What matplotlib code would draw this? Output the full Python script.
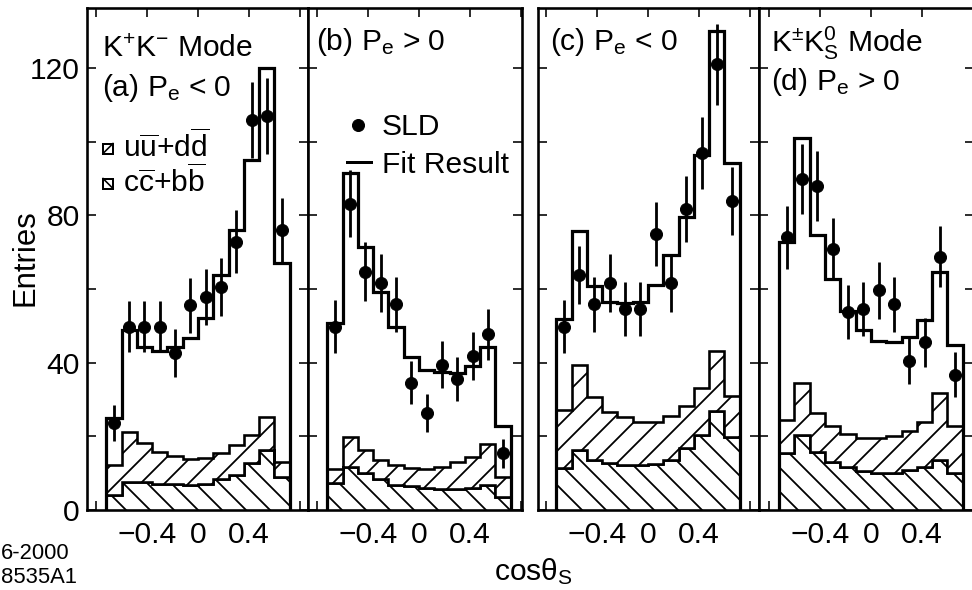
import numpy as np
import matplotlib
matplotlib.use("Agg")
import matplotlib.pyplot as plt
from matplotlib.lines import Line2D
from matplotlib.patches import Rectangle

plt.rcParams['font.family'] = ['Liberation Sans', 'DejaVu Sans']
plt.rcParams['mathtext.fontset'] = 'custom'
plt.rcParams['mathtext.rm'] = 'Liberation Sans'
plt.rcParams['mathtext.it'] = 'Liberation Sans:italic'
plt.rcParams['mathtext.bf'] = 'Liberation Sans:bold'
plt.rcParams['mathtext.sf'] = 'Liberation Sans'
plt.rcParams['hatch.linewidth'] = 1.8

# ---------------- data ----------------
bin_edges = [-0.72, -0.60, -0.48, -0.36, -0.24, -0.12, 0.0, 0.12, 0.24, 0.36, 0.48, 0.60, 0.72]

# (a) K+K- mode, Pe < 0
a_data = [23.6, 49.8, 49.8, 49.8, 42.6, 55.6, 57.8, 60.6, 72.9, 106.0, 107.0, 76.0]
a_err = [5.0, 7.0, 7.0, 7.0, 6.5, 7.5, 7.6, 7.8, 8.5, 10.3, 10.3, 8.7]
a_fit = [25.0, 49.0, 44.3, 43.3, 44.3, 46.6, 52.0, 63.8, 76.0, 95.0, 120.0, 67.0]
a_ccbb = [4.1, 7.7, 7.7, 7.1, 7.1, 6.8, 7.1, 8.3, 9.5, 12.8, 16.3, 9.0]
a_uudd = [8.1, 13.6, 10.4, 8.7, 7.6, 7.0, 6.9, 7.1, 8.1, 7.6, 8.9, 4.1]

# (b) K+K- mode, Pe > 0
b_data = [49.8, 83.1, 64.7, 61.7, 55.8, 34.6, 26.4, 39.5, 35.6, 41.8, 47.7, 15.4]
b_err = [7.1, 9.1, 8.0, 7.9, 7.5, 5.9, 5.1, 6.3, 6.0, 6.5, 6.9, 4.0]
b_fit = [50.9, 91.4, 71.5, 59.3, 49.8, 41.6, 38.0, 37.6, 37.1, 39.1, 44.3, 22.9]
b_ccbb = [7.2, 11.8, 10.0, 8.3, 6.8, 6.4, 5.9, 5.6, 5.6, 5.9, 6.8, 3.6]
b_uudd = [3.9, 8.1, 6.3, 5.3, 5.4, 4.9, 5.1, 6.0, 7.5, 8.6, 11.1, 5.4]

# (c) K+-K0s mode, Pe < 0
c_data = [49.8, 63.8, 55.8, 61.7, 54.6, 54.6, 74.9, 61.6, 81.7, 97.0, 121.0, 83.9]
c_err = [7.1, 8.0, 7.5, 7.9, 7.4, 7.4, 8.7, 7.8, 9.0, 9.8, 11.0, 9.2]
c_fit = [51.8, 75.8, 60.8, 56.6, 56.1, 56.6, 61.2, 69.2, 79.6, 96.4, 130.1, 94.1]
c_ccbb = [11.3, 16.3, 13.6, 12.7, 12.2, 12.2, 12.5, 13.6, 16.7, 20.4, 27.0, 19.9]
c_uudd = [15.9, 23.1, 17.0, 14.0, 13.0, 11.8, 11.5, 11.9, 11.5, 12.6, 16.3, 11.1]

# (d) K+-K0s mode, Pe > 0
d_data = [74.0, 89.9, 88.0, 70.8, 53.7, 54.6, 59.6, 55.8, 40.5, 45.5, 68.8, 36.7]
d_err = [8.6, 9.5, 9.4, 8.4, 7.3, 7.4, 7.7, 7.5, 6.4, 6.7, 8.3, 6.1]
d_fit = [72.9, 100.9, 74.7, 62.6, 54.0, 48.9, 46.0, 45.7, 47.0, 51.6, 64.7, 44.8]
d_ccbb = [15.6, 20.4, 15.8, 13.1, 11.8, 10.7, 10.1, 10.1, 10.9, 11.6, 13.6, 10.0]
d_uudd = [8.8, 14.2, 10.6, 9.8, 8.8, 8.8, 9.4, 10.0, 10.6, 12.4, 18.3, 12.8]

x_ticks = [-0.8, -0.4, 0.0, 0.4, 0.8]
x_ticklabels = ['', '\u22120.4', '0', '0.4', '']
y_ticks = [0, 20, 40, 60, 80, 100, 120]
y_ticklabels = ['0', '', '40', '', '80', '', '120']

# ---------------- layout ----------------
DPI = 72
W, H = 972, 590
fig = plt.figure(figsize=(W / DPI, H / DPI), dpi=DPI)
fig.patch.set_facecolor('white')

def fx(x):
    return x / W

def fy(y):
    return 1 - y / H

AX_TOP, AX_BOT = 8, 510
panels = [
    dict(l=87, r=308, xlim=(-0.871, 0.863), data=a_data, err=a_err, fit=a_fit, ccbb=a_ccbb, uudd=a_uudd),
    dict(l=308, r=522, xlim=(-0.871, 0.808), data=b_data, err=b_err, fit=b_fit, ccbb=b_ccbb, uudd=b_uudd),
    dict(l=538, r=759, xlim=(-0.863, 0.871), data=c_data, err=c_err, fit=c_fit, ccbb=c_ccbb, uudd=c_uudd),
    dict(l=759, r=974, xlim=(-0.878, 0.808), data=d_data, err=d_err, fit=d_fit, ccbb=d_ccbb, uudd=d_uudd),
]

edges = np.array(bin_edges)
centers = 0.5 * (edges[:-1] + edges[1:])

for i, p in enumerate(panels):
    ax = fig.add_axes([fx(p['l']), fy(AX_BOT), (p['r'] - p['l']) / W, (AX_BOT - AX_TOP) / H])
    ccbb = np.array(p['ccbb'])
    total = ccbb + np.array(p['uudd'])
    ax.stairs(ccbb, edges, baseline=0, fill=True, hatch='\\', facecolor='white',
              edgecolor='black', linewidth=2.6, zorder=2)
    ax.stairs(total, edges, baseline=ccbb, fill=True, hatch='/', facecolor='white',
              edgecolor='black', linewidth=2.6, zorder=2)
    ax.stairs(p['fit'], edges, baseline=0, fill=False, color='black', linewidth=3.2, zorder=3)
    ax.errorbar(centers, p['data'], yerr=p['err'], fmt='o', color='black', ms=12,
                elinewidth=2.8, capsize=0, zorder=4)
    ax.set_xlim(*p['xlim'])
    ax.set_ylim(0, 136.3)
    ax.set_xticks(x_ticks)
    ax.set_xticklabels(x_ticklabels)
    ax.set_yticks(y_ticks)
    if i == 0:
        ax.set_yticklabels(y_ticklabels)
    else:
        ax.set_yticklabels([])
    ax.tick_params(direction='in', top=True, right=True, length=9, width=1.6,
                   labelsize=30, colors='black')
    ax.tick_params(axis='x', pad=11)
    ax.tick_params(axis='y', pad=7)
    for s in ax.spines.values():
        s.set_linewidth(2.6)

# ---------------- texts ----------------
FS = 30
fig.text(fx(102), fy(57), r'$\mathrm{K^{+}K^{-}}$ Mode', fontsize=FS, va='baseline')
fig.text(fx(102), fy(96), r'(a) $\mathrm{P_e}$ < 0', fontsize=FS, va='baseline')
fig.text(fx(316), fy(50), r'(b) $\mathrm{P_e}$ > 0', fontsize=FS, va='baseline')
fig.text(fx(550), fy(50), r'(c) $\mathrm{P_e}$ < 0', fontsize=FS, va='baseline')
fig.text(fx(771), fy(52), r'$\mathrm{K^{\pm}K^{0}_{S}}$ Mode', fontsize=FS, va='baseline')
fig.text(fx(771), fy(90), r'(d) $\mathrm{P_e}$ > 0', fontsize=FS, va='baseline')

# legend in (a)
for (yb, diag, lab) in [(148.5, '/', r'$\mathrm{u\overline{u}{+}d\overline{d}}$'),
                        (183.5, '\\', r'$\mathrm{c\overline{c}{+}b\overline{b}}$')]:
    s = 10
    x0, y0 = 103, yb - s / 2
    fig.add_artist(Rectangle((fx(x0), fy(y0 + s)), s / W, s / H, transform=fig.transFigure,
                             facecolor='white', edgecolor='black', linewidth=2.0))
    if diag == '/':
        xs, ys = [x0, x0 + s], [y0 + s, y0]
    else:
        xs, ys = [x0, x0 + s], [y0, y0 + s]
    fig.add_artist(Line2D([fx(v) for v in xs], [fy(v) for v in ys], transform=fig.transFigure,
                          color='black', linewidth=1.6))
    fig.text(fx(123), fy(yb + 9), lab, fontsize=FS, va='baseline')

# legend in (b)
fig.add_artist(Line2D([fx(358)], [fy(125)], transform=fig.transFigure, marker='o',
                      ms=12, color='black', linestyle='none'))
fig.text(fx(382), fy(135), 'SLD', fontsize=FS, va='baseline')
fig.add_artist(Line2D([fx(347), fx(371)], [fy(162), fy(162)], transform=fig.transFigure,
                      color='black', linewidth=3.0))
fig.text(fx(382), fy(173), 'Fit Result', fontsize=FS, va='baseline')

# axis labels
fig.text(fx(533), fy(580), r'cos$\mathrm{\theta_S}$', fontsize=FS, ha='center', va='baseline')
fig.text(fx(25), fy(258), 'Entries', fontsize=31, rotation=90, ha='center', va='center')
fig.text(fx(1), fy(559), '6-2000', fontsize=22, va='baseline')
fig.text(fx(1), fy(583), '8535A1', fontsize=22, va='baseline')

fig.savefig('out.png', dpi=DPI, facecolor='white')
